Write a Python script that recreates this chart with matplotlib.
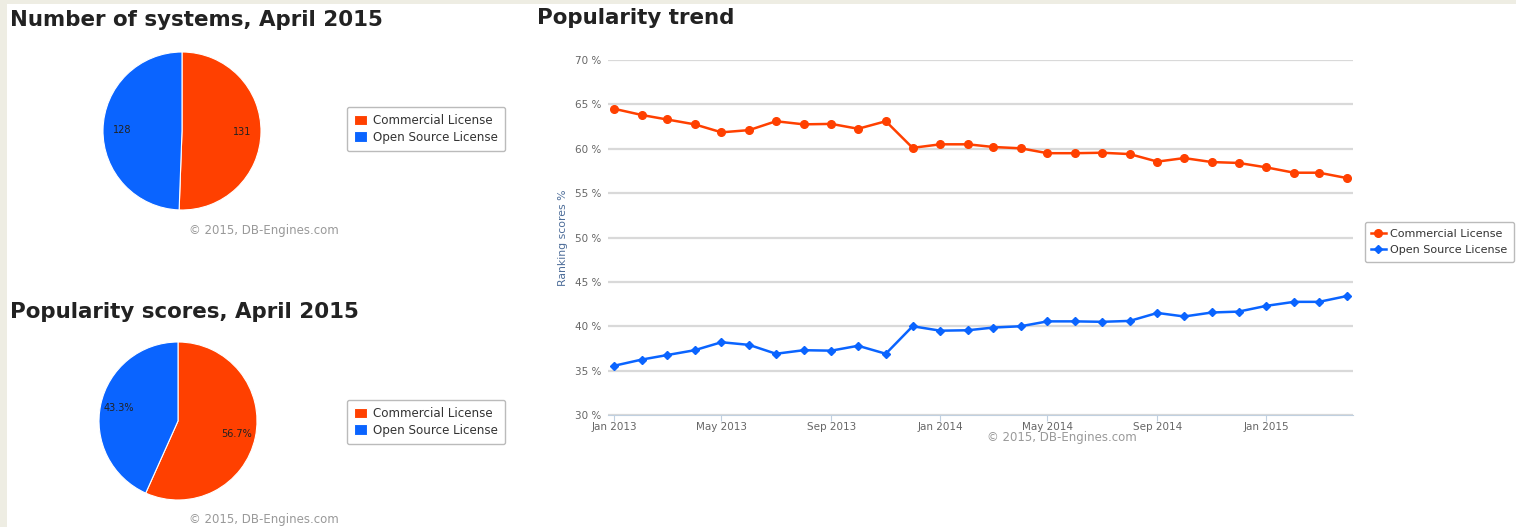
import datetime as dt

import matplotlib
matplotlib.use("Agg")
import matplotlib.pyplot as plt
import matplotlib.dates as mdates
from matplotlib.patches import Rectangle

# ---- data ----
licenses = ["Commercial License", "Open Source License"]
num_systems = [131, 128]
pop_scores = [56.7, 43.3]

months = [dt.date(2013 + (m // 12), m % 12 + 1, 1) for m in range(28)]  # Jan 2013 .. Apr 2015
commercial = [64.5, 63.8, 63.3, 62.75, 61.85, 62.1, 63.1, 62.75, 62.8, 62.25, 63.1, 60.1,
              60.5, 60.5, 60.2, 60.05, 59.5, 59.5, 59.55, 59.4, 58.55, 58.95, 58.5, 58.4,
              57.9, 57.3, 57.3, 56.7]
open_source = [35.55, 36.25, 36.75, 37.3, 38.2, 37.9, 36.9, 37.3, 37.25, 37.8, 36.9, 40.0,
               39.5, 39.55, 39.85, 40.0, 40.55, 40.55, 40.5, 40.6, 41.5, 41.1, 41.55, 41.65,
               42.3, 42.75, 42.75, 43.4]

RED = "#ff4000"
BLUE = "#0a64ff"
W, H = 1516, 527


def fx(px):
    return px / W


def fy(py):
    return 1 - py / H


fig = plt.figure(figsize=(W / 100, H / 100), dpi=100)
fig.patch.set_facecolor("#eeede3")
fig.patches.append(Rectangle((fx(7), 0), 1, fy(4), transform=fig.transFigure,
                             facecolor="white", edgecolor="none", zorder=-10))


def draw_pie(cx, cy, r, values, labels_txt, title_y, title, legend_y, copy_y):
    ax = fig.add_axes([fx(cx - r), fy(cy + r), fx(2 * r), (2 * r) / H])
    wedges, texts = ax.pie(values, colors=[RED, BLUE], startangle=90, counterclock=False,
                           labels=labels_txt, labeldistance=0.76,
                           wedgeprops=dict(edgecolor="white", linewidth=0.8),
                           textprops=dict(fontsize=7, color="#222222"))
    for t in texts:
        t.set_ha("center")
        t.set_va("center")
    ax.set_xlim(-1, 1)
    ax.set_ylim(-1, 1)
    ax.set_aspect("equal")
    fig.text(fx(10), fy(title_y), title, fontsize=15.4, fontweight="bold",
             color="#222222", va="center", ha="left")
    leg = fig.legend(wedges, licenses, loc="upper left",
                     bbox_to_anchor=(fx(347), fy(legend_y)), fontsize=8.6,
                     frameon=True, fancybox=True, edgecolor="#aaaaaa",
                     handlelength=1.1, handleheight=1.0, handletextpad=0.5,
                     labelspacing=0.3, borderpad=0.6, borderaxespad=0)
    for t in leg.get_texts():
        t.set_color("#333333")
    fig.text(fx(264), fy(copy_y), "\u00a9 2015, DB-Engines.com", fontsize=8.5,
             color="#999999", ha="center", va="center")


draw_pie(182, 131, 79, num_systems, [str(v) for v in num_systems], 20,
         "Number of systems, April 2015", 107, 230)
draw_pie(178, 421, 79, pop_scores, [f"{v}%" for v in pop_scores], 312,
         "Popularity scores, April 2015", 400, 520)

# ---- popularity trend ----
fig.text(fx(537), fy(18), "Popularity trend", fontsize=15.4, fontweight="bold",
         color="#222222", va="center", ha="left")

ax = fig.add_axes([fx(608), fy(415), fx(1353 - 608), (415 - 60) / H])
l1, = ax.plot(months, commercial, color=RED, lw=1.8, marker="o", ms=5.5, label=licenses[0])
l2, = ax.plot(months, open_source, color=BLUE, lw=1.8, marker="D", ms=3.8, label=licenses[1])

ax.set_ylim(30, 70)
ax.set_yticks(range(30, 71, 5))
ax.yaxis.set_major_formatter(plt.FuncFormatter(lambda v, p: f"{v:.0f} %"))
ax.set_xlim(dt.date(2012, 12, 25), dt.date(2015, 4, 8))
ax.xaxis.set_major_locator(mdates.MonthLocator(bymonth=[1, 5, 9]))
ax.xaxis.set_major_formatter(mdates.DateFormatter("%b %Y"))

ax.grid(axis="y", color="#d9d9d9", lw=1.6)
ax.set_axisbelow(True)
for s in ["top", "right", "left"]:
    ax.spines[s].set_visible(False)
ax.spines["bottom"].set_color("#c0d0e0")
ax.tick_params(axis="y", length=0, labelsize=7.5, labelcolor="#666666", pad=5)
ax.tick_params(axis="x", length=4, color="#c0d0e0", labelsize=7.5,
               labelcolor="#666666", pad=1)
ax.set_ylabel("Ranking scores %", fontsize=7.8, color="#4d6d99", labelpad=5)

leg = fig.legend([l1, l2], licenses, loc="upper right",
                 bbox_to_anchor=(fx(1514), fy(222)), fontsize=8,
                 frameon=True, fancybox=True, edgecolor="#aaaaaa",
                 handlelength=1.3, handletextpad=0.4, labelspacing=0.6,
                 borderpad=0.6, borderaxespad=0)
for t in leg.get_texts():
    t.set_color("#333333")

fig.text(fx(1062), fy(438), "\u00a9 2015, DB-Engines.com", fontsize=8.5,
         color="#999999", ha="center", va="center")

fig.savefig("out.png", dpi=100)
